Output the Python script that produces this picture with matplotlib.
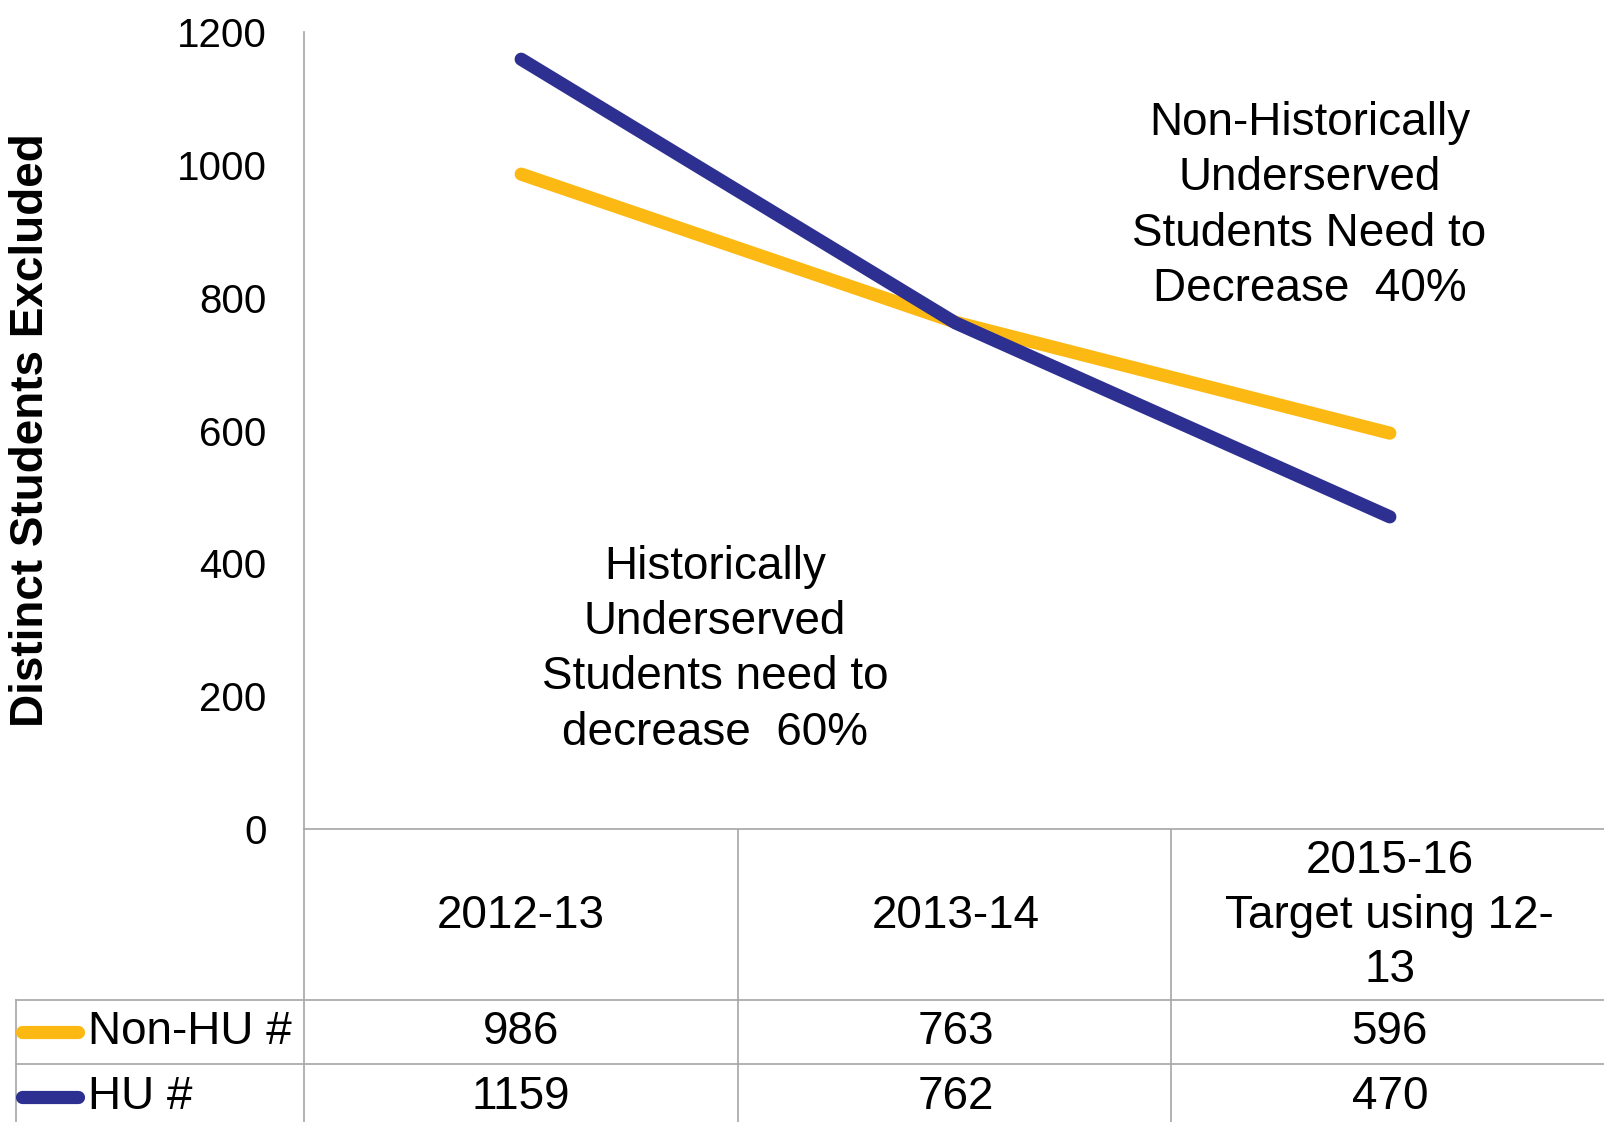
import matplotlib
matplotlib.use("Agg")
import matplotlib.pyplot as plt
import matplotlib.transforms as mtransforms

plt.rcParams['font.family'] = ['Liberation Sans', 'DejaVu Sans']

categories = ["2012-13", "2013-14", "2015-16\nTarget using 12-\n13"]
seriesNames = ["Non-HU #", "HU #"]
nonHU = [986, 763, 596]
hu = [1159, 762, 470]
seriesValues = [nonHU, hu]
seriesColors = ["#FDB913", "#2E3091"]
yTicks = [0, 200, 400, 600, 800, 1000, 1200]

W, H = 1604, 1122
fig = plt.figure(figsize=(W / 100, H / 100), dpi=100)

# main plot area, in figure pixels
axLeft, axRight, axTop, axZero = 304, 1607, 32, 829
ax = fig.add_axes([axLeft / W, (H - axZero) / H, (axRight - axLeft) / W, (axZero - axTop) / H])
ax.set_xlim(0, len(categories))
ax.set_ylim(0, 1200)
xs = [i + 0.5 for i in range(len(categories))]

for vals, col in zip(seriesValues, seriesColors):
    ax.plot(xs, vals, color=col, lw=9.5, solid_capstyle='round', solid_joinstyle='round')

gray = "#A6A6A6"
for s in ["top", "right"]:
    ax.spines[s].set_visible(False)
ax.spines["left"].set_color(gray)
ax.spines["bottom"].set_color(gray)
ax.spines["left"].set_linewidth(1.2)
ax.spines["bottom"].set_linewidth(1.2)
ax.set_yticks(yTicks)
ax.set_yticklabels([str(v) for v in yTicks], fontsize=29)
ax.tick_params(axis='y', length=0, pad=27)
ax.set_xticks([])

fig.text(31 / W, 1 - 430 / H, "Distinct Students Excluded", rotation=90, fontsize=33,
         fontweight='bold', ha='center', va='center')

ax.text(0.946, 270, "Historically\nUnderserved\nStudents need to\ndecrease  60%",
        fontsize=33, ha='center', va='center', linespacing=1.33)
ax.text(2.315, 938, "Non-Historically\nUnderserved\nStudents Need to\nDecrease  40%",
        fontsize=33, ha='center', va='center', linespacing=1.33)

# data table below the plot
tb = fig.add_axes([0, 0, 1, 1], zorder=-1)
tb.set_xlim(0, W)
tb.set_ylim(H, 0)
tb.axis('off')
tr = mtransforms.blended_transform_factory(ax.transData, tb.transData)

headerBottom, row1Bottom, row2Bottom = 1000, 1064, 1130
legendLeft = 16
colEdges = [axLeft, 738, 1171]
for xe in colEdges:
    tb.plot([xe, xe], [axZero, H], color=gray, lw=1.2)
tb.plot([legendLeft, legendLeft], [headerBottom, H], color=gray, lw=1.2)
for ye in [headerBottom, row1Bottom]:
    tb.plot([legendLeft, W], [ye, ye], color=gray, lw=1.2)

for x, cat in zip(xs, categories):
    tb.text(x, (axZero + headerBottom) / 2 + 1, cat, transform=tr, fontsize=33,
            ha='center', va='center', linespacing=1.3)

rowCenters = [(headerBottom + row1Bottom) / 2, (row1Bottom + row2Bottom) / 2]
for name, vals, col, yc in zip(seriesNames, seriesValues, seriesColors, rowCenters):
    tb.plot([22, 78], [yc, yc], color=col, lw=9.5, solid_capstyle='round')
    tb.text(88, yc, name, fontsize=33, ha='left', va='center')
    for x, v in zip(xs, vals):
        tb.text(x, yc, str(v), transform=tr, fontsize=33, ha='center', va='center')

fig.savefig("out.png", dpi=100)
